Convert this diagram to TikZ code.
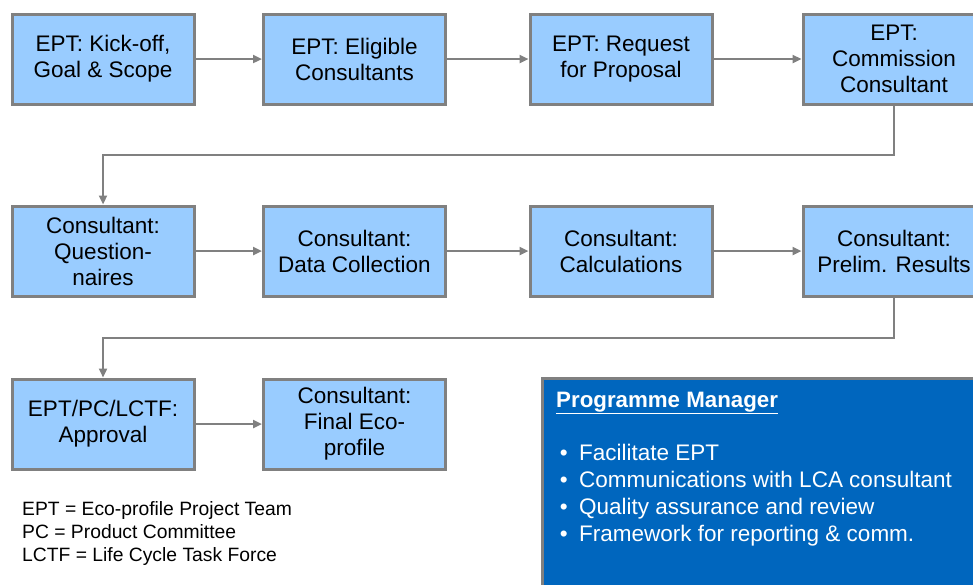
\documentclass[tikz,border=0pt]{standalone}
\usepackage{fontspec}
\setmainfont{Liberation Sans}
\usetikzlibrary{arrows.meta}
\definecolor{boxblue}{RGB}{153,204,255}
\definecolor{pmblue}{RGB}{0,102,190}
\definecolor{linegray}{RGB}{128,128,128}
\tikzset{
	stage/.style={draw=linegray, line width=3pt, fill=boxblue, minimum width=182pt,
		minimum height=90pt, align=center, inner sep=2pt,
		font=\fontsize{22.5}{26}\selectfont},
	link/.style={draw=linegray, line width=2.5pt, -{Triangle[length=9pt,width=8pt]}},
	legendline/.style={anchor=base west, inner sep=0pt, font=\fontsize{19.3}{23}\selectfont},
	pmline/.style={anchor=base west, inner sep=0pt, text=white, font=\fontsize{22.5}{27}\selectfont}
}

\begin{document}
\begin{tikzpicture}[x=1pt, y=-1pt]
			\useasboundingbox (0,0) rectangle (973,584);
			\clip (0,0) rectangle (973,584);
			% row 1
			\node [stage] (kickoff) at (103,59) {EPT: Kick-off,\\Goal \& Scope};
			\node [stage] (eligible) at (354.5,59) {EPT: Eligible\\Consultants};
			\node [stage] (request) at (621,59) {EPT: Request\\for Proposal};
			\node [stage] (commission) at (894,59) {EPT:\\Commission\\Consultant};
			% row 2
			\node [stage] (question) at (103,251) {Consultant:\\Question-\\naires};
			\node [stage] (datacoll) at (354.5,251) {Consultant:\\Data Collection};
			\node [stage] (calc) at (621,251) {Consultant:\\Calculations};
			\node [stage] (prelim) at (894,251) {Consultant:\\Prelim. Results};
			% row 3
			\node [stage] (approval) at (103,424) {EPT/PC/LCTF:\\Approval};
			\node [stage] (final) at (354.5,424) {Consultant:\\Final Eco-\\profile};
			\coordinate (turn1) at (0,155);
			\coordinate (turn2) at (0,338);
			\draw [link] (kickoff) -- (eligible);
			\draw [link] (eligible) -- (request);
			\draw [link] (request) -- (commission);
			\draw [link] (commission.south) -- (commission.south |- turn1) -- (question.north |- turn1) -- (question.north);
			\draw [link] (question) -- (datacoll);
			\draw [link] (datacoll) -- (calc);
			\draw [link] (calc) -- (prelim);
			\draw [link] (prelim.south) -- (prelim.south |- turn2) -- (approval.north |- turn2) -- (approval.north);
			\draw [link] (approval) -- (final);
			% legend
			\foreach \txt [count=\i] in {EPT = Eco-profile Project Team, PC = Product Committee, LCTF = Life Cycle Task Force}
				\node [legendline] (legend\i) at (22,492+23*\i) {\txt};
			% programme manager panel
			\node [draw=linegray, line width=3pt, fill=pmblue, anchor=north west, minimum width=450pt, minimum height=240pt] (pm) at (541,377) {};
			\node [anchor=base west, inner sep=0pt, text=white, font=\fontsize{22.3}{25}\selectfont\bfseries] (pmtitle) at (556,407) {\underline{Programme Manager}};
			\foreach \txt [count=\i] in {Facilitate EPT, Communications with LCA consultant, Quality assurance and review, Framework for reporting \& comm.}
				\node [pmline] (task\i) at (556,433+27*\i) {\makebox[23pt][l]{\,•}\txt};
\end{tikzpicture}
\end{document}
